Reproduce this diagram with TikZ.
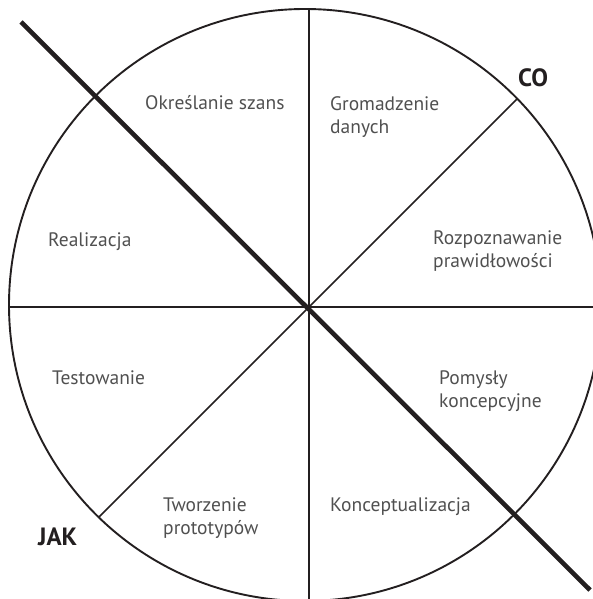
\documentclass[tikz,border=0pt]{standalone}
\usepackage{fontspec}
\setmainfont{PT Sans}
\begin{document}
\begin{tikzpicture}[x=1pt,y=-1pt,
  ink/.style={draw=inkblack},
  rim/.style={ink,line width=1.9pt},
  spoke/.style={ink,line width=1.6pt},
  divider/.style={ink,line width=4.6pt},
  label/.style={inner sep=0pt,anchor=base west,align=left,text=labelgray,
    font=\fontsize{19.5}{23.5}\selectfont},
  axis/.style={inner sep=0pt,anchor=base west,text=inkblack,
    font=\fontsize{25}{28}\selectfont\bfseries}]
\definecolor{inkblack}{HTML}{231F20}
\definecolor{labelgray}{HTML}{505050}
\useasboundingbox (0,0) rectangle (593,599);

% wheel centre and hub where the spokes meet
\coordinate (c) at (305,305);
\coordinate (hub) at (309,307);

% spokes, trimmed to the rim
\begin{scope}
  \clip (c) circle (296);
  \coordinate (vt) at (309,0);
  \coordinate (vb) at (309,620);
  \coordinate (hl) at (0,307);
  \coordinate (hr) at (620,307);
  \coordinate (dt) at (609,7);
  \coordinate (db) at (9,607);
  \draw[spoke] (vt) -- (vb);
  \draw[spoke] (hl) -- (hr);
  \draw[spoke] (dt) -- (db);
\end{scope}

% rim
\draw[rim] (c) circle (296);

% heavy CO / JAK divider
\coordinate (d1) at (21,22);
\coordinate (d2) at (590,590);
\draw[divider] (d1) -- (d2);

% sector labels (two-line labels are placed by their last baseline)
\node[label] (okr) at (145,110) {Określanie szans};
\node[label] (gro) at (330,133.5) {Gromadzenie\\danych};
\node[label] (roz) at (433,267.5) {Rozpoznawanie\\prawidłowości};
\node[label] (pom) at (439,407.5) {Pomysły\\koncepcyjne};
\node[label] (kon) at (330,511) {Konceptualizacja};
\node[label] (two) at (163,534.5) {Tworzenie\\prototypów};
\node[label] (tes) at (52,384) {Testowanie};
\node[label] (rea) at (48,246) {Realizacja};

% axis labels
\node[axis] (co) at (518,87) {CO};
\node[axis] (jak) at (38,545) {JAK};
\end{tikzpicture}
\end{document}
